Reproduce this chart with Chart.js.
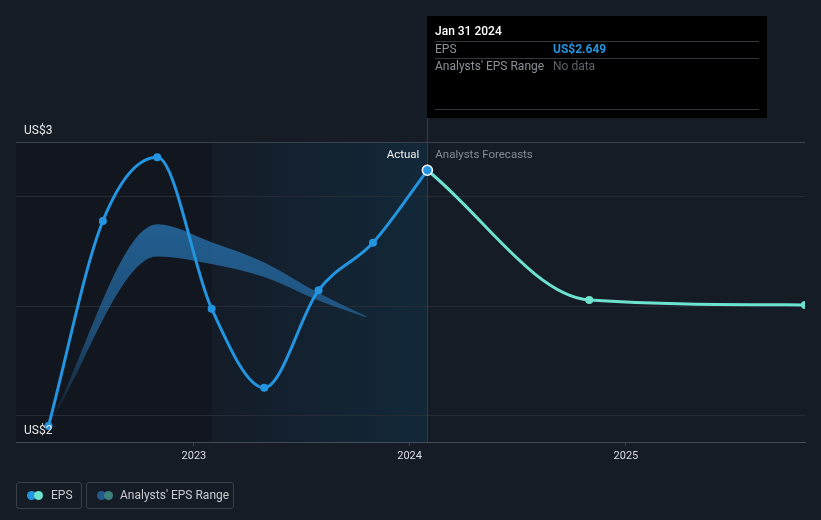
<!DOCTYPE html>
<html>
<head>
<meta charset="utf-8">
<script src="https://cdn.jsdelivr.net/npm/chart.js@4.4.1/dist/chart.umd.min.js"></script>
<style>
  html, body { margin: 0; padding: 0; background: #161c26; }
  #wrap { position: relative; width: 821px; height: 520px; font-family: Roboto, "Open Sans", sans-serif; }
  canvas { display: block; }
  .lg { position: absolute; top: 482px; height: 25px; border: 1px solid #3a3f48; border-radius: 3px;
        color: #c9cbce; font-size: 12px; line-height: 25px; box-sizing: content-box; }
  .dot { position: absolute; top: 8px; width: 9px; height: 9px; border-radius: 50%; }
</style>
</head>
<body>
<div id="wrap">
  <canvas id="c" width="821" height="520"></canvas>
  <div class="lg" style="left:16px;width:64px;">
    <span class="dot" style="left:10px;background:#2394df"></span>
    <span class="dot" style="left:17px;background:#6de2cf"></span>
    <span style="position:absolute;left:34px;">EPS</span>
  </div>
  <div class="lg" style="left:86px;width:146px;">
    <span class="dot" style="left:10px;background:#235a8a"></span>
    <span class="dot" style="left:17px;background:#3c7f7c"></span>
    <span style="position:absolute;left:33px;">Analysts' EPS Range</span>
  </div>
</div>
<script>
// ---- data ----
const actualDates = ['2022-04-30','2022-07-31','2022-10-31','2023-01-31','2023-04-30','2023-07-31','2023-10-31','2024-01-31'];
const actualEps = [2.18, 2.556, 2.673, 2.395, 2.250, 2.429, 2.516, 2.649];
const forecastDates = ['2024-01-31','2024-10-31','2025-10-31'];
const forecastEps = [2.649, 2.411, 2.402];
const rangeDates = ['2022-04-30','2022-10-31','2023-01-31','2023-04-30','2023-07-31','2023-10-20'];
const rangeHigh = [2.18, 2.550, 2.517, 2.480, 2.424, 2.381];
const rangeLow  = [2.18, 2.491, 2.477, 2.453, 2.410, 2.379];
const yearTicks = [2023, 2024, 2025];
const yGridValues = [2.2, 2.4, 2.6];
const yTopLabel = 'US$3';
const yBottomLabel = 'US$2';
const tooltipDate = '2024-01-31';
const tooltipTitle = 'Jan 31 2024';
const tooltipEps = 'US$2.649';
const highlightStart = '2023-01-31';

const X_MIN = Date.UTC(2022, 2, 6);
const X_MAX = Date.UTC(2025, 9, 31);
const Y_MIN = 2.1505;
const Y_MAX = 2.7009;

const t = s => Date.parse(s + 'T00:00:00Z');
const pts = (ds, vs) => ds.map((d, i) => ({ x: t(d), y: vs[i] }));

const FONT = 'Roboto, "Open Sans", sans-serif';

const overlay = {
  id: 'overlay',
  beforeDraw(chart) {
    const { ctx, chartArea: a, scales: { x } } = chart;
    const xs = x.getPixelForValue(t(highlightStart));
    const xe = x.getPixelForValue(t(tooltipDate));
    ctx.save();
    ctx.fillStyle = '#12161e';
    ctx.fillRect(a.left, a.top, xs - a.left, a.bottom - a.top);
    const g = ctx.createLinearGradient(xs, 0, xe, 0);
    g.addColorStop(0, '#141c28');
    g.addColorStop(1, '#122839');
    ctx.fillStyle = g;
    ctx.fillRect(xs, a.top, xe - xs, a.bottom - a.top);
    ctx.restore();
  },
  beforeDatasetsDraw(chart) {
    const { ctx, chartArea: a, scales: { x } } = chart;
    const xe = Math.round(x.getPixelForValue(t(tooltipDate))) + 0.5;
    ctx.save();
    ctx.strokeStyle = '#2c3d4f';
    ctx.lineWidth = 1;
    ctx.beginPath();
    ctx.moveTo(xe, 118);
    ctx.lineTo(xe, a.bottom);
    ctx.stroke();
    ctx.restore();
  },
  afterDatasetsDraw(chart) {
    const { ctx, chartArea: a, scales: { x, y } } = chart;
    const xe = x.getPixelForValue(t(tooltipDate));
    ctx.save();
    ctx.textBaseline = 'middle';
    // y labels
    ctx.font = '12px ' + FONT;
    ctx.fillStyle = '#e6e7e9';
    ctx.textAlign = 'left';
    ctx.fillText(yTopLabel, a.left + 8, y.getPixelForValue(Y_MAX) - 11);
    ctx.fillText(yBottomLabel, a.left + 8, y.getPixelForValue(Y_MIN) - 11);
    // Actual / Forecast labels
    ctx.font = '11.5px ' + FONT;
    ctx.textAlign = 'right';
    ctx.fillStyle = '#f0f0f0';
    ctx.fillText('Actual', xe - 8, a.top + 13);
    ctx.textAlign = 'left';
    ctx.fillStyle = '#878c94';
    ctx.fillText('Analysts Forecasts', xe + 8, a.top + 13);
    // tooltip box
    const bx = Math.round(xe), by = 16, bw = 340, bh = 102;
    ctx.fillStyle = '#000000';
    ctx.fillRect(bx, by, bw, bh);
    ctx.strokeStyle = '#33383f';
    ctx.lineWidth = 1;
    [41.5, 58.5, 109.5].forEach(yy => {
      ctx.beginPath(); ctx.moveTo(bx + 8, yy); ctx.lineTo(bx + bw - 8, yy); ctx.stroke();
    });
    ctx.textAlign = 'left';
    ctx.font = '500 12px ' + FONT;
    ctx.fillStyle = '#ffffff';
    ctx.fillText(tooltipTitle, bx + 8, 31.5);
    ctx.font = '12px ' + FONT;
    ctx.fillStyle = '#8b9097';
    ctx.fillText('EPS', bx + 8, 50);
    ctx.fillText("Analysts' EPS Range", bx + 8, 67);
    ctx.font = 'bold 12px ' + FONT;
    ctx.fillStyle = '#2394df';
    ctx.fillText(tooltipEps, bx + 126, 50);
    ctx.font = '12px ' + FONT;
    ctx.fillStyle = '#5d6168';
    ctx.fillText('No data', bx + 126, 67);
    ctx.restore();
  }
};

const bandFill = (c) => {
  const ch = c.chart;
  if (!ch.chartArea) return 'rgba(38,112,172,0.7)';
  const y = ch.scales.y;
  const g = ch.ctx.createLinearGradient(0, y.getPixelForValue(2.18), 0, y.getPixelForValue(2.55));
  g.addColorStop(0, 'rgba(38,112,172,0.05)');
  g.addColorStop(0.45, 'rgba(38,112,172,0.6)');
  g.addColorStop(1, 'rgba(38,112,172,0.8)');
  return g;
};

new Chart(document.getElementById('c'), {
  type: 'line',
  data: {
    datasets: [
      {
        label: 'EPS',
        data: pts(actualDates, actualEps),
        borderColor: '#2394df',
        backgroundColor: '#2394df',
        borderWidth: 3,
        cubicInterpolationMode: 'monotone',
        pointRadius: actualDates.map((d, i) => i === actualDates.length - 1 ? 5 : 4),
        pointBorderWidth: actualDates.map((d, i) => i === actualDates.length - 1 ? 1.5 : 0),
        pointBorderColor: actualDates.map((d, i) => i === actualDates.length - 1 ? '#ffffff' : '#2394df'),
        pointBackgroundColor: '#2394df',
        fill: false
      },
      {
        label: 'EPS Forecast',
        data: pts(forecastDates, forecastEps),
        borderColor: '#6de2cf',
        backgroundColor: '#6de2cf',
        borderWidth: 3,
        cubicInterpolationMode: 'monotone',
        pointRadius: forecastDates.map((d, i) => i === 0 ? 0 : 4),
        pointBorderWidth: 0,
        fill: false
      },
      {
        label: 'Range High',
        data: pts(rangeDates, rangeHigh),
        borderWidth: 0,
        borderColor: 'rgba(0,0,0,0)',
        pointRadius: 0,
        cubicInterpolationMode: 'monotone',
        backgroundColor: bandFill,
        fill: '+1'
      },
      {
        label: 'Range Low',
        data: pts(rangeDates, rangeLow),
        borderWidth: 0,
        borderColor: 'rgba(0,0,0,0)',
        pointRadius: 0,
        cubicInterpolationMode: 'monotone',
        fill: false
      }
    ]
  },
  options: {
    responsive: false,
    animation: false,
    events: [],
    layout: { padding: { left: 16, right: 16, top: 142, bottom: 0 } },
    plugins: { legend: { display: false }, tooltip: { enabled: false } },
    scales: {
      x: {
        type: 'linear',
        min: X_MIN,
        max: X_MAX,
        afterBuildTicks: s => { s.ticks = yearTicks.map(yr => ({ value: Date.UTC(yr, 0, 1) })); },
        afterFit: s => { s.height = 78; },
        ticks: {
          color: '#dcdde0',
          font: { family: FONT, size: 11 },
          padding: 4,
          maxRotation: 0,
          callback: v => String(new Date(v).getUTCFullYear())
        },
        grid: { display: true, drawOnChartArea: false, drawTicks: true, tickLength: 4, color: '#3b414b' },
        border: { display: true, color: '#454b55', width: 1 }
      },
      y: {
        type: 'linear',
        min: Y_MIN,
        max: Y_MAX,
        afterBuildTicks: s => { s.ticks = yGridValues.concat([Y_MAX]).map(v => ({ value: v })); },
        afterFit: s => { s.width = 0; },
        ticks: { display: false },
        grid: {
          drawTicks: false,
          color: c => (c.tick && c.tick.value === Y_MAX) ? '#3b414b' : '#262c36',
          lineWidth: 1
        },
        border: { display: false }
      }
    }
  },
  plugins: [overlay]
});
</script>
</body>
</html>
